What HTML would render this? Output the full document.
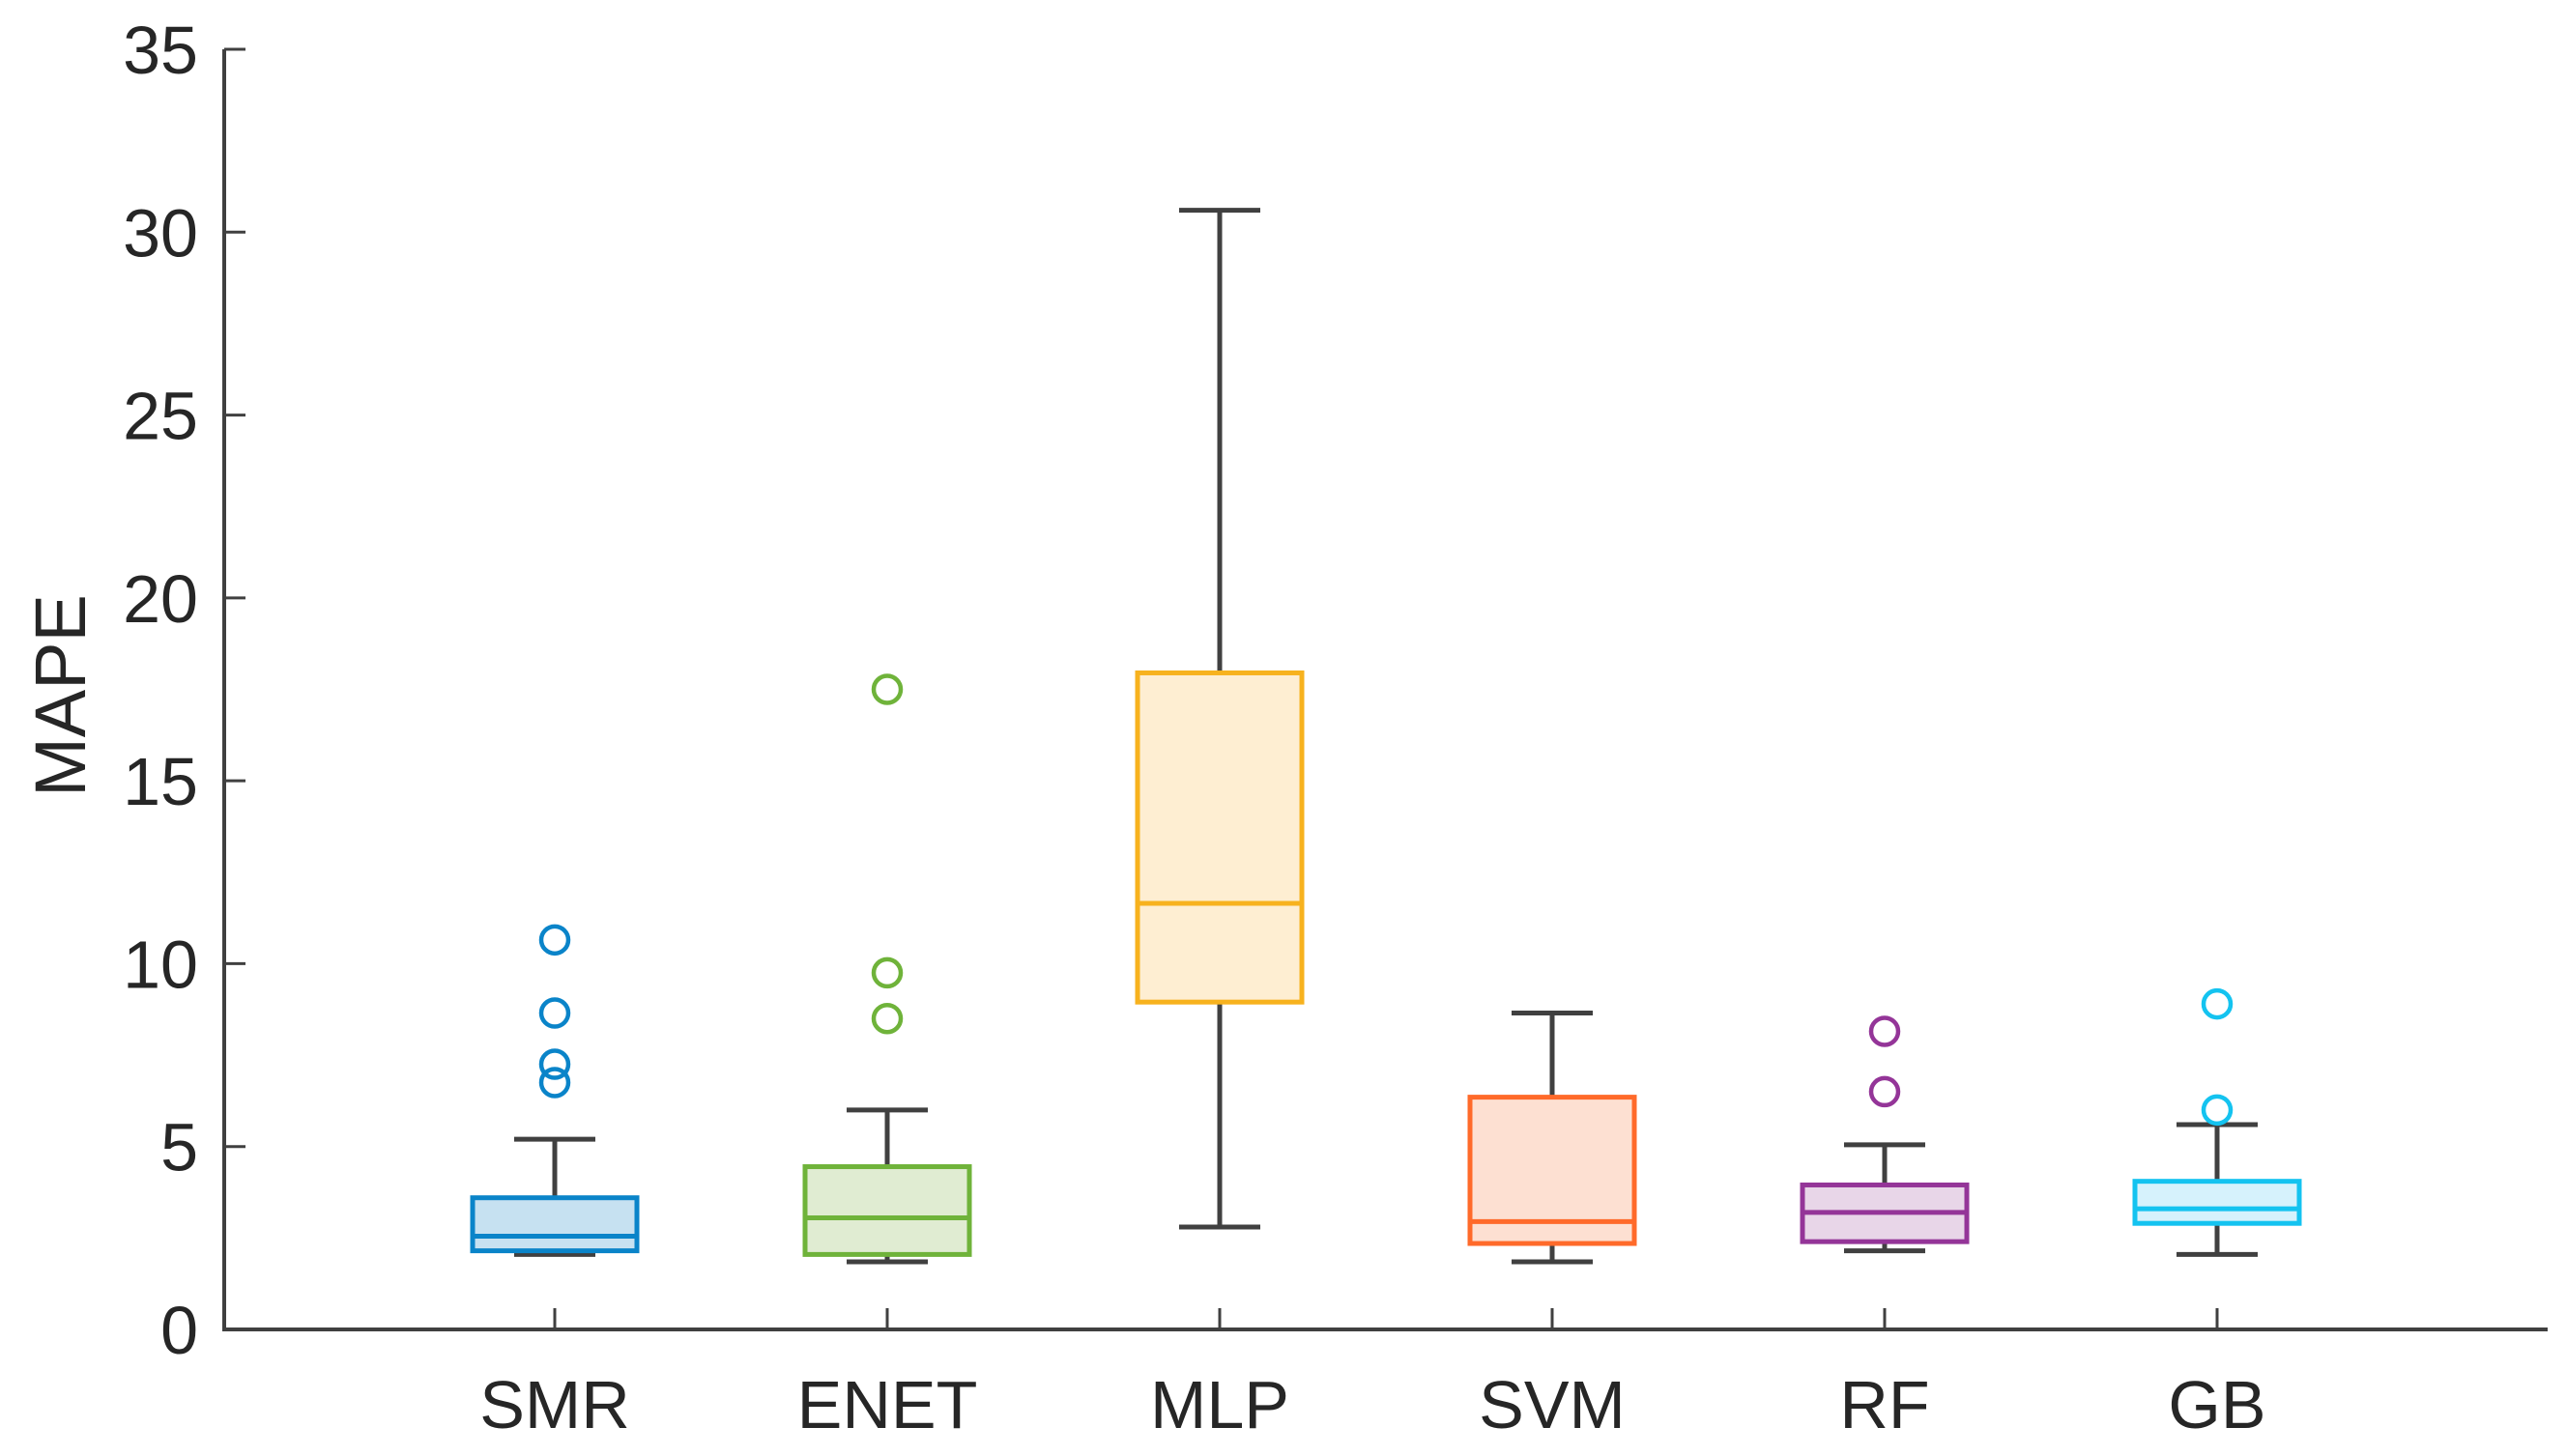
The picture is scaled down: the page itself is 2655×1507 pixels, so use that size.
<!DOCTYPE html>
<html><head><meta charset="utf-8"><style>
html,body{margin:0;padding:0;background:#fff;}
svg{display:block;font-family:"Liberation Sans",Arial,sans-serif;}
</style></head><body>
<svg id="chart" width="2655" height="1507" viewBox="0 0 2655 1507" xmlns="http://www.w3.org/2000/svg">
<rect width="2655" height="1507" fill="#fff"/>
<g id="axes"></g>
<g id="boxes"></g>
<text transform="translate(88,720) rotate(-90)" text-anchor="middle" font-size="74" fill="#262626">MAPE</text>
</svg>
<script>
const categories = ["SMR","ENET","MLP","SVM","RF","GB"];
const whiskerLow = [2.05,1.85,2.8,1.85,2.15,2.05];
const q1 = [2.15,2.05,8.95,2.35,2.4,2.9];
const median = [2.55,3.05,11.65,2.95,3.2,3.3];
const q3 = [3.6,4.45,17.95,6.35,3.95,4.05];
const whiskerHigh = [5.2,6.0,30.6,8.65,5.05,5.6];
const outliers = [[10.65,8.65,7.25,6.75],[17.5,9.75,8.5],[],[],[8.15,6.5],[8.9,6.0]];
const yTicks = [0,5,10,15,20,25,30,35];
const strokeColors = ["#0a84c9","#6fb33a","#f7b21e","#ff6a2a","#943598","#14c3f0"];
const fillColors = ["#c6e1f1","#e0ecd2","#feeed2","#fde0d2","#e8d6e8","#d6f2fc"];

const NS="http://www.w3.org/2000/svg";
const X0=232, X1=2636, Y0=1376, YMAX=51;
const y = v => Y0 - v*(Y0-YMAX)/35;
const x = i => 574 + i*344;
function mk(parent,tag,attrs){const e=document.createElementNS(NS,tag);for(const k in attrs)e.setAttribute(k,attrs[k]);parent.appendChild(e);return e;}
const axes=document.getElementById('axes'), boxes=document.getElementById('boxes');

let el=mk(axes,'path',{d:`M${X0},${YMAX} V${Y0} H${X1}`,fill:'none',stroke:'#404040','stroke-width':4});


yTicks.forEach(t=>{
  let tk=mk(axes,'line',{x1:X0,x2:X0+22,y1:y(t),y2:y(t),stroke:'#404040','stroke-width':3});
  
  
  let lb=mk(axes,'text',{x:205,y:y(t)+25,'text-anchor':'end','font-size':70,fill:'#262626'});
  lb.textContent=t;
  
  
});
categories.forEach((c,i)=>{
  let tk=mk(axes,'line',{x1:x(i),x2:x(i),y1:Y0,y2:Y0-22,stroke:'#404040','stroke-width':3});
  
  
  let lb=mk(axes,'text',{x:x(i),y:1478,'text-anchor':'middle','font-size':70,fill:'#262626'});
  lb.textContent=c;
  
  
});
categories.forEach((c,i)=>{
  const g=mk(boxes,'g',{});
  
  
  const cx=x(i), hw=85, cw=42;
  let w=mk(g,'path',{d:`M${cx},${y(q3[i])} V${y(whiskerHigh[i])} M${cx-cw},${y(whiskerHigh[i])} H${cx+cw} M${cx},${y(q1[i])} V${y(whiskerLow[i])} M${cx-cw},${y(whiskerLow[i])} H${cx+cw}`,stroke:'#404040','stroke-width':5,fill:'none'});
  
  
  let r=mk(g,'rect',{x:cx-hw,y:y(q3[i]),width:2*hw,height:y(q1[i])-y(q3[i]),fill:fillColors[i],stroke:strokeColors[i],'stroke-width':5});
  
  
  let m=mk(g,'line',{x1:cx-hw,x2:cx+hw,y1:y(median[i]),y2:y(median[i]),stroke:strokeColors[i],'stroke-width':5});
  
  
  outliers[i].forEach(v=>{
    let o=mk(g,'ellipse',{cx:cx,cy:y(v),rx:14,ry:14,fill:'none',stroke:strokeColors[i],'stroke-width':4.5});
    
    
  });
});
</script>
</body></html>
